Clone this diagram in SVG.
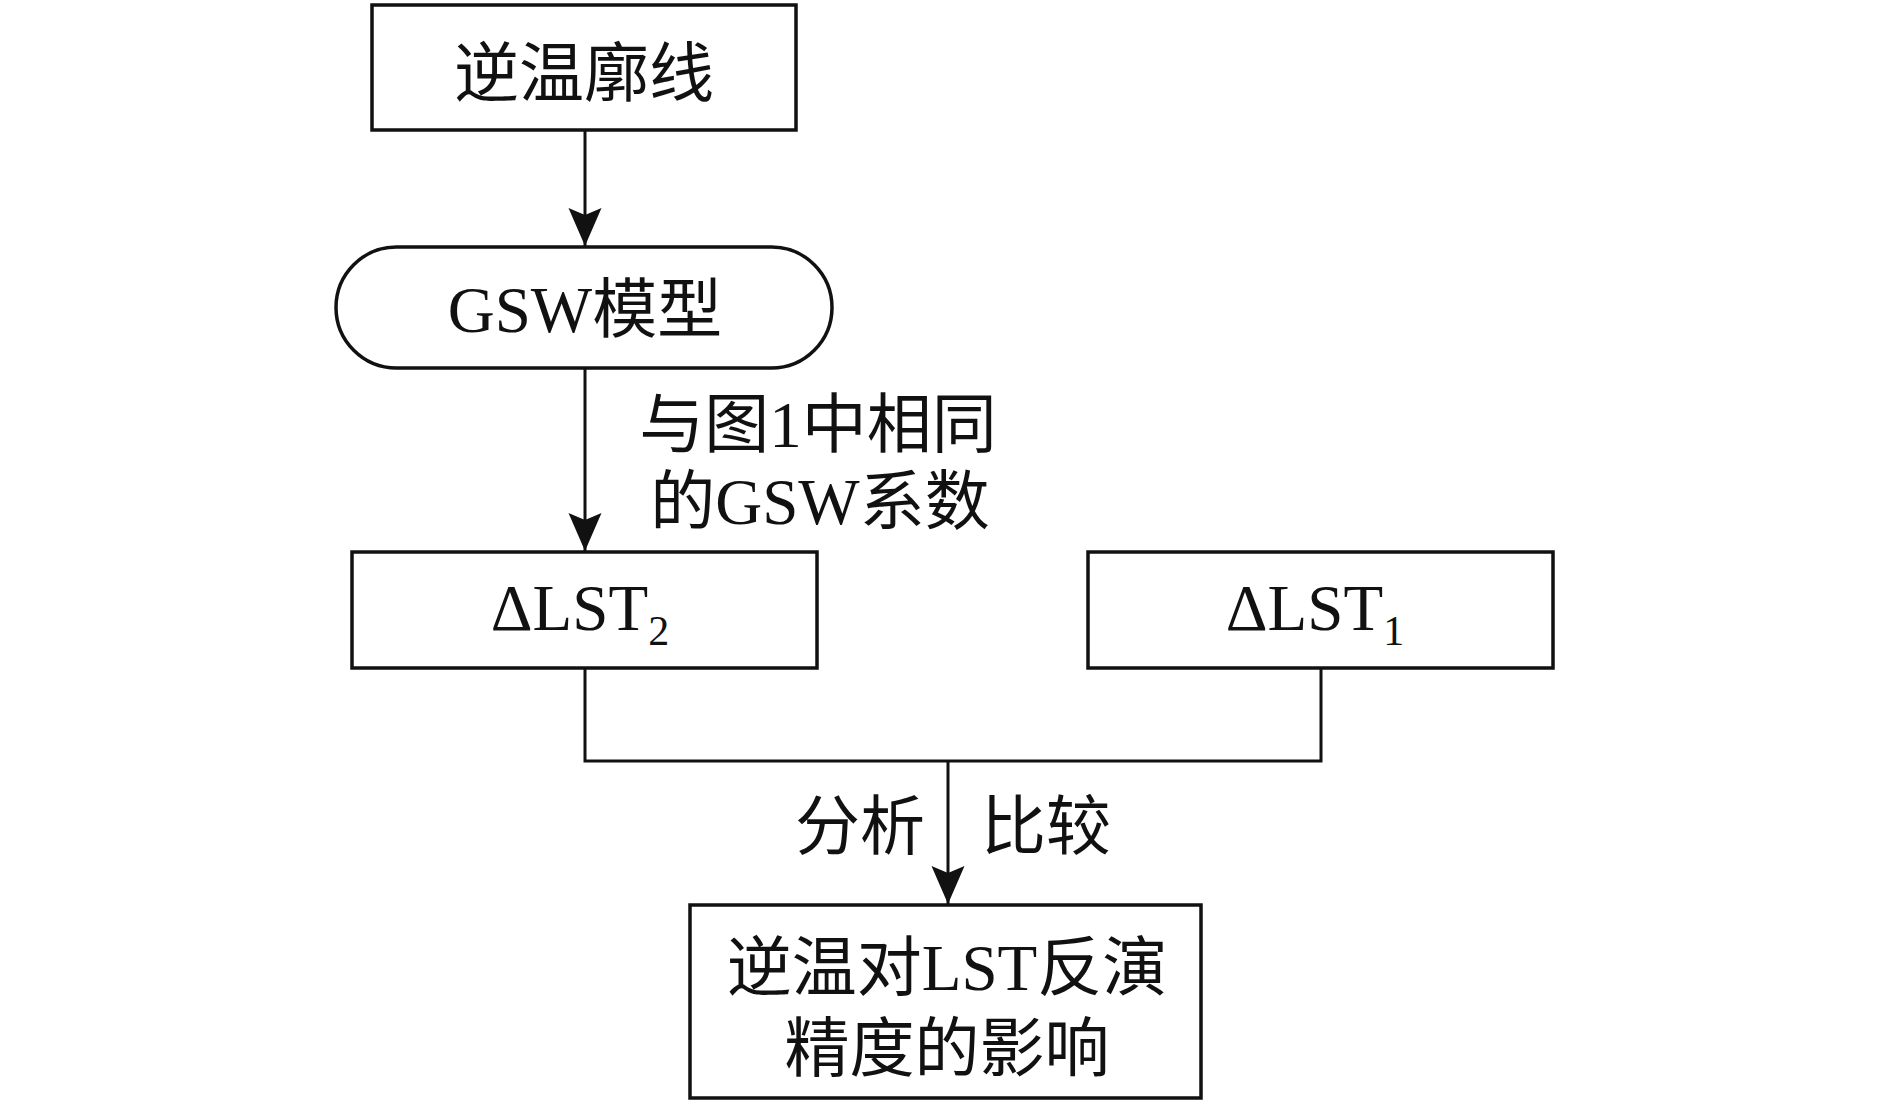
<svg xmlns="http://www.w3.org/2000/svg" width="1890" height="1101" viewBox="0 0 1890 1101">
<style>
.box{fill:#fff;stroke:#111;stroke-width:3.5}
.con{fill:none;stroke:#111;stroke-width:3}
text{font-family:"Liberation Serif","Noto Sans CJK SC",serif;font-size:65px;fill:#111}
.c{text-anchor:middle}
.sub{font-size:42px}
</style>
<defs>
<marker id="ah" markerUnits="userSpaceOnUse" markerWidth="40" markerHeight="36" viewBox="0 -18 40 36" refX="38" refY="0" orient="auto">
<path d="M0,-16.5 L38,0 L0,16.5 L7,0 Z" fill="#111"/>
</marker>
</defs>
<rect width="1890" height="1101" fill="#fff"/>
<g id="connectors">
<line class="con" x1="585" y1="130" x2="585" y2="246" marker-end="url(#ah)"/>
<line class="con" x1="585" y1="368" x2="585" y2="551" marker-end="url(#ah)"/>
<path class="con" d="M585,668 V761 H1321 V668"/>
<line class="con" x1="948" y1="761" x2="948" y2="904" marker-end="url(#ah)"/>
<text class="c" x="818" y="447">与图1中相同</text>
<text class="c" x="820" y="524">的GSW系数</text>
<text x="795" y="849">分析</text>
<text x="981" y="849">比较</text>
</g>
<g id="n1">
<rect class="box" x="372" y="5" width="424" height="125"/>
<text class="c" x="584" y="96">逆温廓线</text>
</g>
<g id="n2">
<rect class="box" x="336" y="247" width="496" height="121" rx="60.5" ry="60.5"/>
<text class="c" x="585" y="332">GSW模型</text>
</g>
<g id="n3">
<rect class="box" x="352" y="552" width="465" height="116"/>
<text class="c" x="580" y="630">ΔLST<tspan class="sub" dy="15">2</tspan></text>
</g>
<g id="n4">
<rect class="box" x="1088" y="552" width="465" height="116"/>
<text class="c" x="1315" y="630">ΔLST<tspan class="sub" dy="15">1</tspan></text>
</g>
<g id="n5">
<rect class="box" x="690" y="905" width="511" height="193"/>
<text class="c" x="947" y="990">逆温对LST反演</text>
<text class="c" x="947" y="1071">精度的影响</text>
</g>
</svg>
